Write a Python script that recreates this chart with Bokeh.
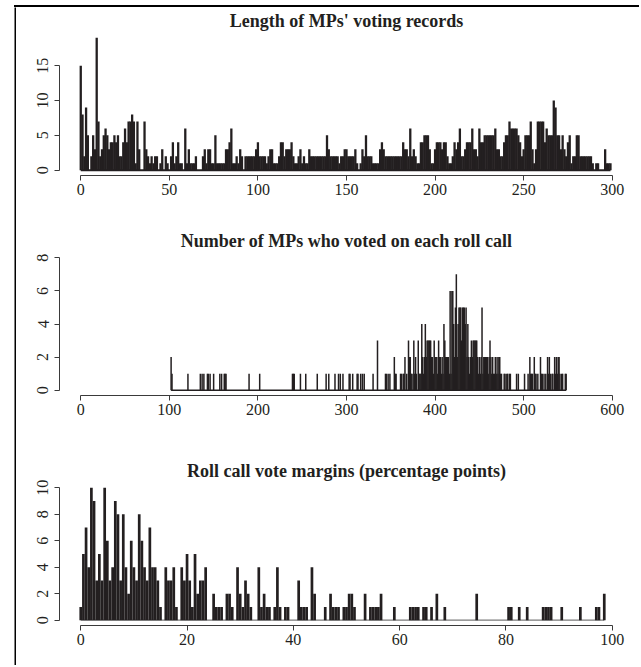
from bokeh.plotting import figure
from bokeh.layouts import column, row
from bokeh.models import FixedTicker, Spacer
from bokeh.embed import file_html
from bokeh.resources import INLINE

# ---------------- data ----------------
# Panel 1: length of MPs' voting records (number of votes) -> number of MPs
record_len = list(range(300))
record_mps = [
    15, 8, 2, 9, 5, 0, 2, 5, 3, 19,
    7, 2, 3, 5, 6, 5, 3, 4, 4, 5,
    4, 5, 2, 2, 4, 6, 4, 7, 7, 8,
    7, 1, 7, 3, 0, 0, 7, 3, 2, 1,
    2, 1, 2, 2, 0, 1, 3, 0, 2, 1,
    0, 2, 4, 1, 2, 4, 1, 1, 0, 6,
    1, 3, 1, 1, 1, 2, 0, 0, 0, 2,
    3, 1, 3, 3, 1, 1, 5, 1, 1, 1,
    1, 1, 3, 3, 4, 6, 1, 1, 2, 1,
    3, 2, 0, 2, 2, 2, 2, 2, 2, 3,
    4, 2, 2, 2, 2, 1, 2, 3, 3, 1,
    1, 1, 2, 4, 4, 2, 3, 3, 3, 4,
    2, 1, 1, 2, 3, 1, 2, 1, 1, 3,
    2, 2, 2, 2, 2, 2, 2, 2, 2, 5,
    3, 2, 2, 2, 2, 2, 1, 2, 2, 3,
    3, 2, 2, 2, 2, 3, 1, 0, 1, 3,
    2, 5, 2, 2, 2, 1, 1, 1, 1, 3,
    4, 3, 2, 2, 2, 2, 2, 2, 2, 2,
    2, 2, 4, 3, 3, 2, 6, 2, 3, 2,
    1, 1, 4, 4, 5, 5, 5, 3, 1, 1,
    3, 4, 4, 4, 3, 4, 4, 2, 1, 1,
    2, 4, 3, 4, 6, 2, 2, 3, 4, 4,
    4, 6, 3, 3, 2, 6, 4, 4, 5, 5,
    5, 5, 5, 5, 6, 3, 3, 2, 2, 4,
    5, 5, 7, 6, 6, 6, 6, 5, 4, 2,
    3, 5, 5, 5, 7, 3, 1, 3, 7, 7,
    7, 7, 4, 6, 5, 5, 5, 10, 9, 5,
    5, 3, 5, 3, 2, 4, 5, 1, 2, 2,
    5, 5, 2, 2, 2, 2, 2, 2, 2, 1,
    0, 1, 1, 0, 0, 0, 3, 1, 1, 1,
]

# Panel 2: number of MPs voting on a roll call -> number of roll calls
voters_n = [
    102, 103, 121, 135, 137, 139, 143, 144, 146, 150, 157, 159, 162, 163, 164,
    190, 202, 239, 240, 241, 248, 254, 267, 277, 280, 287, 291, 293, 296,
    303, 304, 307, 312, 313, 316, 318, 320, 330, 335, 344, 345, 347, 349,
    354, 355, 356, 361, 362, 364, 365, 366, 368, 370, 371, 372, 373, 374,
    376, 377, 378, 379, 381, 382, 383, 384, 385, 386, 387, 388, 389, 390,
    391, 392, 393, 394, 395, 396, 397, 398, 399, 400, 401, 402, 403, 404,
    405, 406, 407, 408, 409, 410, 411, 412, 413, 414, 415, 416, 417, 418,
    419, 420, 421, 422, 423, 424, 425, 426, 427, 428, 429, 430, 431, 432,
    433, 434, 435, 436, 437, 438, 439, 440, 441, 442, 443, 444, 445, 446,
    447, 448, 449, 450, 451, 452, 453, 454, 455, 456, 457, 458, 459, 460,
    461, 462, 463, 464, 465, 466, 467, 468, 469, 470, 471, 472, 473, 474,
    475, 478, 479, 481, 482, 484, 485, 492, 494, 501, 505, 507, 508, 509,
    510, 512, 513, 514, 516, 519, 520, 521, 523, 525, 527, 528, 529, 530,
    532, 533, 535, 536, 537, 538, 539, 540, 541, 543, 544, 547, 548,
]
voters_calls = [
    2, 1, 1, 1, 1, 1, 1, 1, 1, 1, 1, 1, 1, 1, 1,
    1, 1, 1, 1, 1, 1, 1, 1, 1, 1, 1, 1, 1, 1,
    1, 1, 1, 1, 1, 1, 1, 1, 1, 3, 1, 1, 1, 1,
    2, 1, 1, 1, 1, 1, 1, 2, 1, 3, 2, 2, 1, 1,
    3, 1, 2, 1, 3, 1, 1, 1, 4, 2, 1, 2, 4, 2,
    3, 3, 3, 3, 3, 2, 2, 1, 3, 2, 2, 2, 1, 3,
    2, 2, 1, 2, 1, 4, 3, 2, 2, 2, 2, 1, 6, 1,
    6, 6, 4, 2, 5, 7, 2, 4, 5, 5, 5, 3, 5, 5,
    5, 4, 5, 2, 4, 2, 1, 2, 3, 2, 3, 3, 3, 3,
    3, 2, 1, 2, 1, 2, 5, 1, 2, 2, 2, 2, 2, 1,
    2, 3, 2, 1, 2, 1, 1, 2, 1, 2, 1, 2, 2, 1,
    1, 1, 1, 1, 1, 1, 1, 1, 1, 1, 1, 2, 1, 1,
    1, 2, 1, 1, 1, 2, 1, 1, 1, 1, 2, 1, 2, 1,
    1, 1, 2, 1, 2, 1, 2, 2, 1, 1, 1, 1, 1,
]

# Panel 3: roll call vote margin (percentage points) -> number of roll calls
margin_pp = [
    0.0, 0.5, 1.0, 1.5, 2.0, 2.5, 3.0, 3.5, 4.0, 4.5,
    5.0, 5.5, 6.0, 6.5, 7.0, 7.5, 8.0, 8.5, 9.0, 9.5,
    10.0, 10.5, 11.0, 11.5, 12.0, 12.5, 13.0, 13.5, 14.0, 14.5,
    15.0, 16.0, 16.5, 17.0, 17.5, 18.0, 19.0, 19.5, 20.0, 20.5,
    21.0, 21.5, 22.0, 22.5, 23.0, 23.5, 25.0, 25.5, 26.0, 26.5,
    27.5, 28.0, 28.5, 29.5, 30.0, 30.5, 31.0, 31.5, 32.0, 33.5,
    34.0, 34.5, 35.0, 35.5, 36.5, 37.0, 37.5, 38.5, 39.0, 41.0,
    41.5, 42.0, 42.5, 43.5, 44.0, 46.0, 47.0, 47.5, 48.0, 48.5,
    49.5, 50.0, 50.5, 51.0, 51.5, 53.5, 54.5, 55.0, 55.5, 56.0,
    56.5, 59.0, 62.0, 62.5, 63.0, 63.5, 64.5, 65.0, 66.0, 67.0,
    68.5, 74.5, 80.5, 81.0, 82.5, 84.0, 87.0, 87.5, 88.0, 88.5,
    90.5, 94.0, 97.0, 97.5, 98.5,
]
margin_calls = [
    1, 5, 7, 4, 10, 9, 3, 5, 3, 10,
    6, 3, 4, 9, 8, 3, 8, 4, 2, 6,
    4, 3, 8, 6, 4, 3, 7, 4, 4, 3,
    1, 4, 3, 3, 4, 1, 4, 3, 5, 3,
    1, 5, 2, 3, 3, 4, 2, 1, 1, 1,
    2, 2, 1, 4, 2, 1, 3, 2, 1, 4,
    1, 2, 1, 1, 1, 4, 1, 1, 1, 3,
    1, 1, 1, 4, 2, 1, 2, 1, 1, 1,
    1, 1, 2, 2, 1, 2, 1, 1, 1, 1,
    2, 1, 1, 1, 1, 1, 1, 1, 1, 2,
    1, 2, 1, 1, 1, 1, 1, 1, 1, 1,
    1, 1, 1, 1, 2,
]

titles = [
    "Length of MPs' voting records",
    "Number of MPs who voted on each roll call",
    "Roll call vote margins (percentage points)",
]
x_ticks = [
    [0, 50, 100, 150, 200, 250, 300],
    [0, 100, 200, 300, 400, 500, 600],
    [0, 20, 40, 60, 80, 100],
]
y_ticks = [
    [0, 5, 10, 15],
    [0, 2, 4, 6, 8],
    [0, 2, 4, 6, 8, 10],
]

# ---------------- style ----------------
INK = "#231f20"
AXIS = "#3a3a3a"
FONT = "Liberation Serif"
FIG_W = 617
FRAME_H = 143
FIG_H = [222, 221, 204]
TOPS = [25, 23, 32]
RULE_H = 658


def pad(lo, hi):
    d = 0.04 * (hi - lo)
    return (lo - d, hi + d)


def rule(w, h):
    """A plain black strip used for the page frame (left edge)."""
    f = figure(width=w, height=h, title=None, output_backend="svg",
               toolbar_location=None,
               x_axis_location=None, y_axis_location=None,
               min_border=0, min_border_left=0, min_border_right=0,
               min_border_top=0, min_border_bottom=0)
    f.background_fill_color = "black"
    f.border_fill_color = "black"
    f.outline_line_color = None
    f.grid.visible = False
    return f


def panel(title, xs, cs, xt, yt, y_top, bar_w, base_col, base_w, fig_h, top):
    p = figure(
        width=FIG_W, height=fig_h,
        x_range=pad(xt[0], xt[-1]), y_range=pad(0, y_top),
        output_backend="svg", toolbar_location=None,
        min_border_left=43, min_border_right=0,
        min_border_top=top, min_border_bottom=fig_h - top - FRAME_H,
    )
    p.title.text = title
    p.title.text_font = FONT
    p.title.text_font_style = "bold"
    p.title.text_font_size = "18px"
    p.title.text_color = INK
    p.title.align = "center"
    p.title.vertical_align = "top"
    p.title.standoff = 0
    p.outline_line_color = None
    p.grid.visible = False
    p.background_fill_color = "white"
    p.border_fill_color = "white"

    # zero baseline spanning the observed values
    p.segment(x0=[min(xs)], y0=[0], x1=[max(xs)], y1=[0],
              line_color=base_col, line_width=base_w)
    # spikes (type = "h")
    p.segment(x0=xs, y0=[0] * len(xs), x1=xs, y1=cs,
              line_color=INK, line_width=bar_w, line_cap="butt")

    for ax in (p.xaxis[0], p.yaxis[0]):
        ax.axis_line_color = AXIS
        ax.axis_line_width = 1
        ax.major_tick_line_color = AXIS
        ax.major_tick_out = 5
        ax.major_tick_in = 0
        ax.minor_tick_out = 0
        ax.minor_tick_in = 0
        ax.major_label_text_font = FONT
        ax.major_label_text_font_size = "16px"
        ax.major_label_text_color = INK
    p.xaxis.ticker = FixedTicker(ticks=xt)
    p.yaxis.ticker = FixedTicker(ticks=yt)
    p.xaxis.bounds = (xt[0], xt[-1])
    p.yaxis.bounds = (yt[0], yt[-1])
    p.xaxis.major_label_standoff = 3
    p.yaxis.major_label_standoff = 6
    p.yaxis.major_label_orientation = "vertical"
    return p


p1 = panel(titles[0], record_len, record_mps, x_ticks[0], y_ticks[0],
           max(record_mps), 2.3, INK, 2.0, FIG_H[0], TOPS[0])
p2 = panel(titles[1], voters_n, voters_calls, x_ticks[1], y_ticks[1],
           y_ticks[1][-1], 1.5, INK, 1.6, FIG_H[1], TOPS[1])
p3 = panel(titles[2], margin_pp, margin_calls, x_ticks[2], y_ticks[2],
           max(margin_calls), 2.7, "#7a7a7a", 1.2, FIG_H[2], TOPS[2])

top_rule = Spacer(width=FIG_W + 8, height=2,
                  styles={"background-color": "#000000"})

layout = column(
    Spacer(width=10, height=5),
    row(Spacer(width=14, height=2), top_rule),
    row(Spacer(width=14, height=RULE_H), rule(2, RULE_H),
        column(p1, p2, p3)),
)

open("out.html", "w").write(file_html(layout, INLINE))
